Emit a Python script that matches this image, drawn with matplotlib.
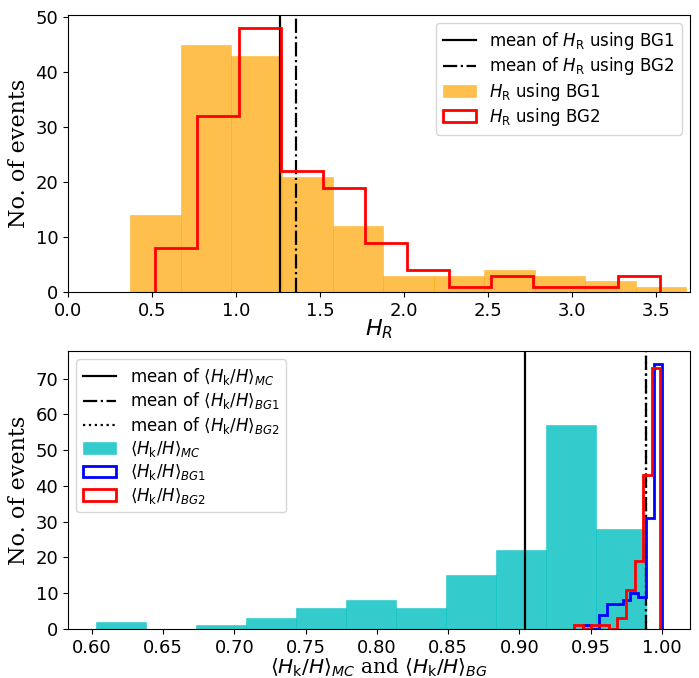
import numpy as np
import matplotlib
matplotlib.use("Agg")
import matplotlib.pyplot as plt

# ---------------- data ----------------
# top panel: H_R histograms
hr_bg1_edges = np.linspace(0.371, 3.678, 12)
hr_bg1_counts = [14, 45, 43, 21, 12, 3, 3, 4, 3, 2, 1]
hr_bg2_edges = np.linspace(0.515, 3.520, 13)
hr_bg2_counts = [8, 32, 48, 22, 19, 9, 4, 1, 3, 1, 1, 3]
hr_mean_bg1 = 1.263
hr_mean_bg2 = 1.356

# bottom panel: <H_k/H> histograms
hk_mc_edges = np.linspace(0.603, 0.989, 12)
hk_mc_counts = [2, 0, 1, 3, 6, 8, 6, 15, 22, 57, 28]
hk_bg1_edges = np.linspace(0.9449, 0.9999, 11)
hk_bg1_counts = [1, 0, 4, 7, 7, 8, 10, 9, 31, 74]
hk_bg2_edges = np.linspace(0.9385, 0.9990, 11)
hk_bg2_counts = [1, 0, 1, 1, 0, 3, 11, 19, 43, 73]
hk_mean_mc = 0.9038
hk_mean_bg1 = 0.9889
hk_mean_bg2 = 0.9887

plt.rcParams['mathtext.fontset'] = 'dejavusans'

fig = plt.figure(figsize=(6.99, 6.78), dpi=100)
ax1 = fig.add_axes([68/699, 1-292/678, 622/699, 277/678])
ax2 = fig.add_axes([68/699, 1-629/678, 622/699, 278/678])

TICK = 13
LEG = 12

# ---- top ----
ax1.axvline(hr_mean_bg1, color='k', ls='-', lw=1.6, label=r'mean of $H_\mathrm{R}$ using BG1')
ax1.axvline(hr_mean_bg2, color='k', ls='-.', lw=1.6, label=r'mean of $H_\mathrm{R}$ using BG2')
ax1.hist(hr_bg1_edges[:-1], bins=hr_bg1_edges, weights=hr_bg1_counts,
         color='orange', alpha=0.7, ec='orange', lw=0.4, label=r'$H_\mathrm{R}$ using BG1')
ax1.hist(hr_bg2_edges[:-1], bins=hr_bg2_edges, weights=hr_bg2_counts,
         histtype='step', color='red', lw=2, label=r'$H_\mathrm{R}$ using BG2')
ax1.set_xlim(0, 3.7)
ax1.set_xticks(np.arange(0, 3.51, 0.5))
ax1.set_yticks([0, 10, 20, 30, 40, 50])
ax1.tick_params(labelsize=TICK)
ax1.set_xlabel(r'$H_R$', fontsize=16, labelpad=-2)
ax1.set_ylabel('No. of events', fontsize=16, family='DejaVu Serif')
ax1.legend(loc='upper right', fontsize=LEG, labelspacing=0.2)

# ---- bottom ----
ax2.axvline(hk_mean_mc, color='k', ls='-', lw=1.6,
            label=r'mean of $\langle H_\mathrm{k}/H\rangle_{MC}$')
ax2.axvline(hk_mean_bg1, color='k', ls='-.', lw=1.6,
            label=r'mean of $\langle H_\mathrm{k}/H\rangle_{BG1}$')
ax2.axvline(hk_mean_bg2, color='k', ls=':', lw=1.6,
            label=r'mean of $\langle H_\mathrm{k}/H\rangle_{BG2}$')
ax2.hist(hk_mc_edges[:-1], bins=hk_mc_edges, weights=hk_mc_counts,
         color='c', alpha=0.8, ec='c', lw=0.4, label=r'$\langle H_\mathrm{k}/H\rangle_{MC}$')
ax2.hist(hk_bg1_edges[:-1], bins=hk_bg1_edges, weights=hk_bg1_counts,
         histtype='step', color='blue', lw=2, label=r'$\langle H_\mathrm{k}/H\rangle_{BG1}$')
ax2.hist(hk_bg2_edges[:-1], bins=hk_bg2_edges, weights=hk_bg2_counts,
         histtype='step', color='red', lw=2, label=r'$\langle H_\mathrm{k}/H\rangle_{BG2}$')
ax2.set_xticks(np.arange(0.60, 1.001, 0.05))
ax2.set_yticks(np.arange(0, 71, 10))
ax2.tick_params(labelsize=TICK)
ax2.set_xlabel(r'$\langle H_\mathrm{k}/H\rangle_{MC}$ and $\langle H_\mathrm{k}/H\rangle_{BG}$',
               fontsize=14.5, family='DejaVu Serif', labelpad=0)
ax2.set_ylabel('No. of events', fontsize=16, family='DejaVu Serif')
ax2.legend(loc='upper left', fontsize=LEG, labelspacing=0.2)

fig.savefig('out.png', dpi=100)
